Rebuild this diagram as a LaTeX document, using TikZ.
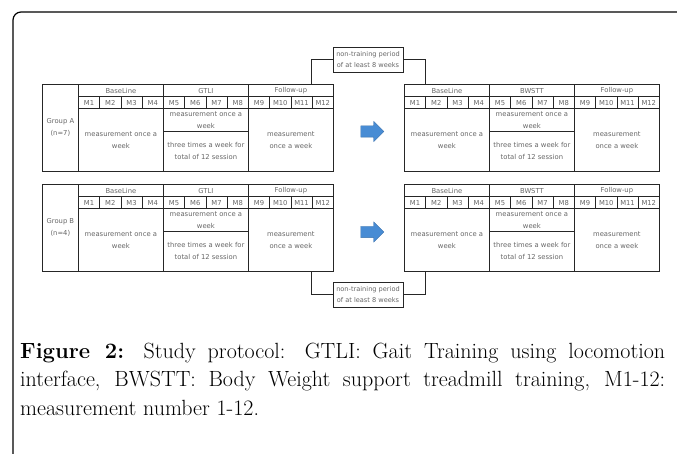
\documentclass[tikz,border=0pt]{standalone}
\usepackage{fontspec}
\usepackage{xcolor}
\usepackage{tikz}
\usetikzlibrary{shapes.arrows, arrows.meta, positioning}
\newfontfamily\tabfont{DejaVu Sans}
\definecolor{shiftblue}{RGB}{72,140,212}
\tikzstyle{cell} = [
rectangle,
anchor=north west,
inner sep=0pt,
align=center,
draw=black!85,
line width=0.8pt,
text=black!60,
font=\tabfont\fontsize{6.8}{12}\selectfont
]
\tikzstyle{note} = [
rectangle,
inner sep=0.5pt,
minimum width=70pt,
minimum height=25pt,
align=center,
draw=black!85,
line width=0.8pt,
text=black!60,
font=\tabfont\fontsize{6.6}{11}\selectfont
]
\tikzstyle{link} = [
line width=1pt,
draw=black!85
]
\tikzstyle{shiftarrow} = [
single arrow,
inner xsep=0pt,
inner ysep=5.5pt,
minimum height=23pt,
single arrow head extend=4.5pt,
fill=shiftblue,
draw=shiftblue!80!black,
line width=0.3pt
]
% one protocol table: name, left x, top y, training
\newcommand{\protocoltable}[4]{
\node (#1-base) [cell, minimum width=85pt, minimum height=12.5pt] at (#2,#3) {BaseLine};
\node (#1-train) [cell, minimum width=85pt, minimum height=12.5pt] at ({#2+85},#3) {#4};
\node (#1-fol) [cell, minimum width=85pt, minimum height=12.5pt] at ({#2+170},#3) {Follow-up};
\foreach \m in {1,...,12}
\node (#1-m\m) [cell, minimum width=21.25pt, minimum height=11.5pt] at ({#2+21.25*(\m-1)},{#3+12.5}) {M\m};
\node (#1-basebody) [cell, minimum width=85pt, minimum height=63pt] at (#2,{#3+24}) {measurement once a\\week};
\node (#1-measure) [cell, minimum width=85pt, minimum height=23pt] at ({#2+85},{#3+24}) {measurement once a\\week};
\node (#1-session) [cell, minimum width=85pt, minimum height=40pt] at ({#2+85},{#3+47}) {three times a week for\\total of 12 session};
\node (#1-folbody) [cell, minimum width=85pt, minimum height=63pt] at ({#2+170},{#3+24}) {measurement\\once a week};
}
\begin{document}
\begin{tikzpicture}[x=1pt, y=-1pt]
\useasboundingbox (0,0) rectangle (677,454);

\draw [line width=1.2pt, rounded corners=8pt] (13,456) -- (13,12) -- (679,12);

\node (grpA) [cell, minimum width=36pt, minimum height=87pt] at (42,84) {Group A\\(n=7)};
\protocoltable{A1}{78}{84}{GTLI}
\protocoltable{A2}{404}{84}{BWSTT}

\node (grpB) [cell, minimum width=36pt, minimum height=87pt] at (42,184) {Group B\\(n=4)};
\protocoltable{B1}{78}{184}{GTLI}
\protocoltable{B2}{404}{184}{BWSTT}

\node (shiftA) [shiftarrow] at (369.5,131.5) {};
\node (shiftB) [shiftarrow] at (369.5,232) {};

\node (gapA) [note] at (368,59.5) {non-training period\\of at least 8 weeks};
\node (gapB) [note] at (368,294.5) {non-training period\\of at least 8 weeks};

\draw [link] ([xshift=21pt]A1-fol.north) |- (gapA.west);
\draw [link] (gapA.east) -| ([xshift=-21pt]A2-base.north);
\draw [link] ([xshift=21pt]B1-folbody.south) |- (gapB.west);
\draw [link] (gapB.east) -| ([xshift=-21pt]B2-basebody.south);

\node (caption) [anchor=north west, inner sep=0pt, text width=645pt, align=justify, font=\fontsize{22}{28.5}\selectfont] at (20,342.5) {\textbf{Figure 2:} Study protocol: GTLI: Gait Training using locomotion\linebreak interface, BWSTT: Body Weight support treadmill training, M1-12:\linebreak measurement number 1-12.};

\end{tikzpicture}
\end{document}
